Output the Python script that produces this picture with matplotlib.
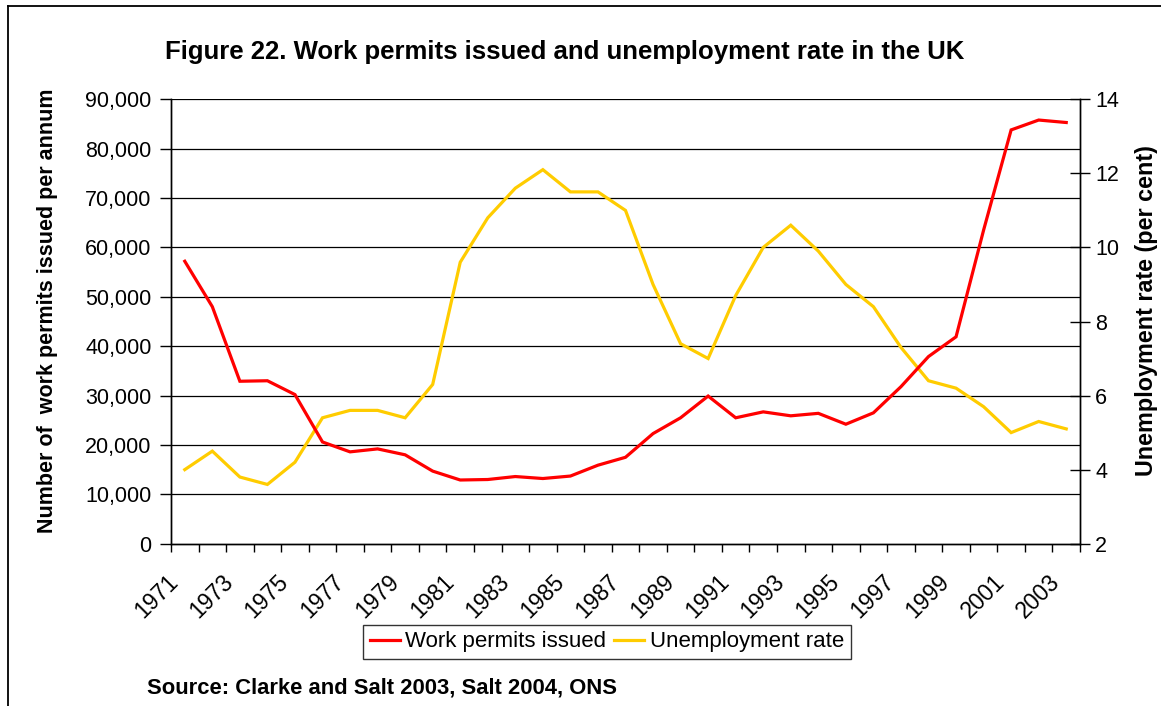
import matplotlib
matplotlib.use("Agg")
import matplotlib.pyplot as plt
from matplotlib.lines import Line2D
from matplotlib.ticker import FuncFormatter, FixedLocator
from matplotlib.transforms import ScaledTranslation

plt.rcParams['font.family'] = ['Liberation Sans', 'DejaVu Sans']

years = list(range(1971, 2004))
work_permits = [57200, 48000, 32900, 33000, 30200, 20600, 18600, 19200, 18000, 14700,
                12900, 13000, 13600, 13200, 13700, 15900, 17500, 22300, 25500, 29900,
                25500, 26700, 25900, 26400, 24200, 26500, 31800, 37900, 41900, 63500,
                83800, 85800, 85300]
unemployment = [4.0, 4.5, 3.8, 3.6, 4.2, 5.4, 5.6, 5.6, 5.4, 6.3,
                9.6, 10.8, 11.6, 12.1, 11.5, 11.5, 11.0, 9.0, 7.4, 7.0,
                8.7, 10.0, 10.6, 9.9, 9.0, 8.4, 7.3, 6.4, 6.2, 5.7,
                5.0, 5.3, 5.1]
tick_years = [str(y) for y in years[::2]]

title = "Figure 22. Work permits issued and unemployment rate in the UK"
left_label = "Number of  work permits issued per annum"
right_label = "Unemployment rate (per cent)"
source = "Source: Clarke and Salt 2003, Salt 2004, ONS"

W, H = 1161, 706
fig = plt.figure(figsize=(W / 100, H / 100), dpi=100)
ax = fig.add_axes([171 / W, 1 - 543.7 / H, (1080 - 171) / W, (543.7 - 99.3) / H])
ax2 = ax.twinx()

x = [i + 0.5 for i in range(len(years))]
red = '#FF0000'
yellow = '#FFCC00'
ax.plot(x, work_permits, color=red, lw=2.3, solid_joinstyle='miter', zorder=3)
ax2.plot(x, unemployment, color=yellow, lw=2.3, solid_joinstyle='miter', zorder=3)
# red series drawn above the yellow one
ax.set_zorder(2)
ax2.set_zorder(1)
ax.patch.set_visible(False)

ax.set_xlim(0, len(years))
ax.set_ylim(0, 90000)
ax2.set_ylim(2, 14)

ax.yaxis.set_major_locator(FixedLocator(range(0, 90001, 10000)))
ax.yaxis.set_major_formatter(FuncFormatter(lambda v, p: f"{int(v):,}"))
ax2.yaxis.set_major_locator(FixedLocator(range(2, 15, 2)))

for v in range(10000, 90001, 10000):
    ax2.axhline(2 + v / 90000 * 12, color='black', lw=0.9, zorder=0)

# category boundaries carry the ticks; every second year is labelled
ax.set_xticks(range(len(years) + 1))
ax.set_xticklabels([])
label_offset = ScaledTranslation(-0.18, -0.27, fig.dpi_scale_trans)
for i, lab in zip(range(0, len(years), 2), tick_years):
    ax.text(i + 0.5, 0, lab, transform=ax.get_xaxis_transform() + label_offset,
            rotation=45, rotation_mode='anchor', ha='right', va='top', fontsize=16.5,
            clip_on=False)

ax.tick_params(axis='x', direction='out', length=6, width=1, color='black')
ax.tick_params(axis='y', direction='out', length=8, width=1, labelsize=15.5, pad=6)
ax2.tick_params(axis='y', direction='inout', length=14, width=1, labelsize=15.5, pad=4)

for a in (ax, ax2):
    a.spines['top'].set_visible(False)
    for s in ('left', 'right', 'bottom'):
        a.spines[s].set_color('black')
        a.spines[s].set_linewidth(1)

fig.text(165 / W, 1 - 52 / H, title, fontsize=18.5, fontweight='bold', ha='left', va='center')
fig.text(48 / W, 1 - 311 / H, left_label, fontsize=15.5, fontweight='bold',
         rotation=90, ha='center', va='center')
fig.text(1147 / W, 1 - 311 / H, right_label, fontsize=16.8, fontweight='bold',
         rotation=90, ha='center', va='center')
fig.text(147 / W, 1 - 688 / H, source, fontsize=15.8, fontweight='bold', ha='left', va='center')

handles = [Line2D([], [], color=red, lw=2.3), Line2D([], [], color=yellow, lw=2.3)]
leg = fig.legend(handles, ["Work permits issued", "Unemployment rate"], ncol=2,
                 loc='center', bbox_to_anchor=(607 / W, 1 - 642 / H), fontsize=16,
                 frameon=True, fancybox=False, edgecolor='black', handlelength=1.35,
                 handletextpad=0.25, columnspacing=0.35, borderpad=0.3, borderaxespad=0)
leg.get_frame().set_linewidth(1)

# outer frame
fig.add_artist(Line2D([8 / W, 8 / W], [0, 1 - 5.5 / H], color='black', lw=1.3,
                      transform=fig.transFigure))
fig.add_artist(Line2D([8 / W, 1], [1 - 5.5 / H, 1 - 5.5 / H], color='black', lw=1.3,
                      transform=fig.transFigure))

fig.savefig('out.png', dpi=100)
